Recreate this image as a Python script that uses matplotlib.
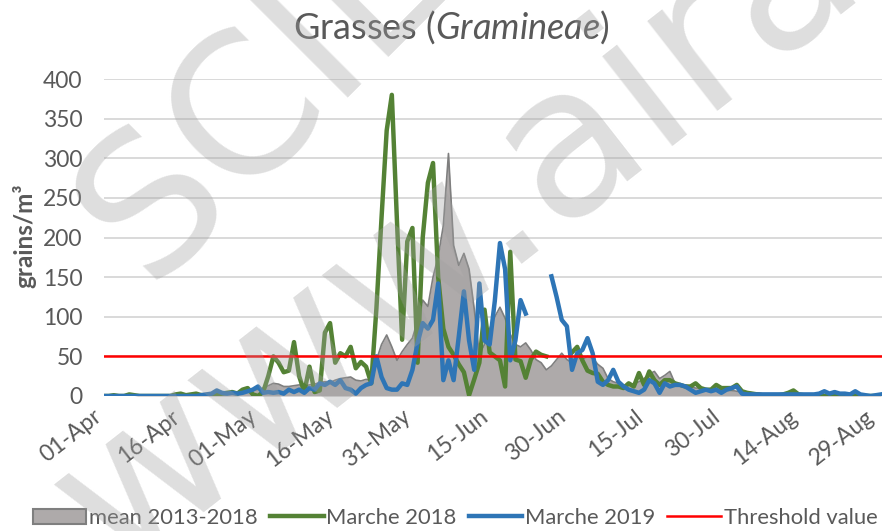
import numpy as np
import matplotlib
matplotlib.use("Agg")
import matplotlib.pyplot as plt
import matplotlib.transforms as mtransforms
from matplotlib.lines import Line2D
from matplotlib.patches import Patch

nan = np.nan

tick_labels = ['01-Apr', '16-Apr', '01-May', '16-May', '31-May', '15-Jun',
               '30-Jun', '15-Jul', '30-Jul', '14-Aug', '29-Aug']

# daily values, 01-Apr .. 30-Aug
mean_2013_2018 = [
    0, 0, 0, 0, 0, 0, 0, 1, 1, 1,
    1, 1, 1, 1, 2, 2, 2, 2, 2, 3,
    3, 3, 3, 4, 4, 4, 5, 5, 6, 7,
    8, 10, 13, 16, 15, 12, 12, 13, 14, 13,
    14, 15, 17, 18, 17, 20, 22, 23, 24, 20,
    19, 21, 20, 45, 65, 77, 62, 45, 56, 65,
    73, 95, 121, 113, 150, 176, 215, 306, 190, 165,
    180, 160, 110, 52, 65, 85, 100, 112, 98, 78,
    65, 62, 67, 58, 46, 42, 33, 38, 46, 54,
    46, 42, 50, 46, 50, 48, 40, 35, 22, 18,
    16, 14, 14, 15, 18, 22, 28, 31, 22, 26,
    31, 16, 14, 14, 12, 10, 10, 9, 8, 8,
    8, 7, 7, 6, 5, 5, 4, 4, 3, 3,
    3, 3, 2, 2, 2, 2, 2, 2, 1, 1,
    1, 1, 1, 1, 1, 1, 1, 1, 1, 1, 1, 1]

marche_2018 = [
    0, 0, 1, 0, 0, 2, 1, 0, 0, 0,
    0, 0, 0, 0, 2, 3, 1, 2, 3, 1,
    1, 2, 2, 3, 4, 5, 3, 8, 10, 2,
    0, 5, 25, 50, 42, 30, 32, 68, 25, 5,
    37, 5, 7, 80, 92, 42, 54, 50, 62, 35,
    43, 37, 16, 110, 225, 335, 380, 220, 71, 195,
    212, 42, 200, 269, 294, 150, 85, 62, 52, 40,
    30, 1, 21, 42, 109, 55, 50, 45, 12, 182,
    46, 44, 23, 46, 56, 52, 50, nan, nan, nan,
    nan, 55, 62, 45, 32, 29, 28, 18, 14, 12,
    12, 10, 16, 12, 29, 14, 31, 20, 14, 20,
    20, 16, 14, 12, 12, 16, 10, 8, 8, 14,
    10, 10, 10, 14, 6, 4, 3, 2, 1, 1,
    1, 1, 2, 4, 7, 2, 1, 1, 1, 0,
    0, 0, 0, 0, 0, 0, 0, 0, 0, 0, 0, 0]

marche_2019 = [
    0, 0, 0, 0, 0, 0, 0, 0, 0, 0,
    0, 0, 0, 0, 0, 0, 0, 0, 0, 1,
    2, 3, 7, 4, 3, 4, 3, 4, 6, 8,
    12, 4, 5, 4, 5, 3, 8, 5, 8, 4,
    10, 8, 16, 14, 18, 14, 20, 10, 8, 3,
    10, 14, 16, 50, 24, 10, 8, 8, 16, 14,
    33, 67, 92, 85, 96, 142, 20, 45, 20, 75,
    132, 70, 33, 142, 70, 65, 120, 193, 160, 45,
    70, 121, 104, nan, nan, nan, nan, 151, 125, 96,
    88, 33, 54, 58, 73, 54, 18, 14, 20, 33,
    18, 12, 8, 6, 4, 8, 20, 16, 4, 16,
    12, 14, 14, 12, 8, 4, 6, 8, 6, 8,
    4, 8, 10, 12, 3, 2, 2, 2, 2, 2,
    2, 2, 2, 2, 2, 2, 2, 2, 2, 3,
    6, 3, 5, 3, 3, 2, 6, 2, 1, 0, 1, 2]

threshold = 50

plt.rcParams['font.family'] = ['Lato', 'DejaVu Sans']
plt.rcParams['mathtext.fontset'] = 'custom'
plt.rcParams['mathtext.rm'] = 'Lato'
plt.rcParams['mathtext.it'] = 'Lato:italic'

TXT = '#595959'
fig = plt.figure(figsize=(8.82, 5.31), dpi=100)
ax = fig.add_axes([103.5 / 882, 1 - 396 / 531, (882 - 103.5) / 882, (396 - 79) / 531])

x = np.arange(len(mean_2013_2018))
ax.fill_between(x, mean_2013_2018, 0, color='#aeaaaa', lw=0, zorder=2)
ax.plot(x, mean_2013_2018, color='#7f7f7f', lw=1.2, zorder=3)
ax.plot(x, marche_2018, color='#548235', lw=3.2, solid_joinstyle='round', zorder=4)
ax.plot(x, marche_2019, color='#2e75b6', lw=3.2, solid_joinstyle='round', zorder=5)
ax.axhline(threshold, color='#ff0000', lw=1.8, zorder=6)

ax.set_xlim(0, 151.2)
ax.set_ylim(0, 400)
ax.set_yticks(np.arange(0, 401, 50))
ax.grid(axis='y', color='#d9d9d9', lw=1.4, zorder=0)
ax.set_axisbelow(True)
for s in ax.spines.values():
    s.set_visible(False)
ax.tick_params(axis='both', length=0, colors=TXT)
ax.tick_params(axis='y', pad=15, labelsize=16.5)
ax.set_xticks(np.arange(0, 151, 15))
ax.set_xticklabels(tick_labels, rotation=38, ha='right', va='center',
                   rotation_mode='anchor', fontsize=16.5)
ax.tick_params(axis='x', pad=13)
shift = mtransforms.ScaledTranslation(-4 / 100, 0, fig.dpi_scale_trans)
for lab in ax.get_xticklabels():
    lab.set_transform(lab.get_transform() + shift)

fig.text(451 / 882, 1 - 27 / 531, r'Grasses ($\mathit{Gramineae}$)', fontsize=26,
         color=TXT, ha='center', va='center')
fig.text(24 / 882, 1 - 236 / 531, 'grains/m³', rotation=90, fontsize=17.5,
         fontweight='bold', color=TXT, ha='center', va='center')

handles = [Patch(facecolor='#aeaaaa', edgecolor='#7f7f7f', lw=1.5),
           Line2D([], [], color='#548235', lw=3.2),
           Line2D([], [], color='#2e75b6', lw=3.2),
           Line2D([], [], color='#ff0000', lw=1.8)]
labels = ['mean 2013-2018', 'Marche 2018', 'Marche 2019', 'Threshold value']
leg = fig.legend(handles, labels, loc='center', bbox_to_anchor=(455 / 882, 1 - 518 / 531),
                 ncol=4, frameon=False, fontsize=15.8, handlelength=2.45,
                 handletextpad=0.12, columnspacing=0.55, borderpad=0.1,
                 labelcolor=TXT)

# watermark
fig.text(148 / 882, 1 - 285 / 531, 'SCIENT', rotation=45, fontsize=140,
         color='#a0a0a0', alpha=0.35, family='DejaVu Sans',
         ha='left', va='baseline', rotation_mode='anchor', zorder=20)
fig.text(115 / 882, 1 - 575 / 531, 'www.airal', rotation=38, fontsize=150,
         color='#a0a0a0', alpha=0.35, family='DejaVu Sans',
         ha='left', va='baseline', rotation_mode='anchor', zorder=20)

fig.savefig('out.png', dpi=100)
